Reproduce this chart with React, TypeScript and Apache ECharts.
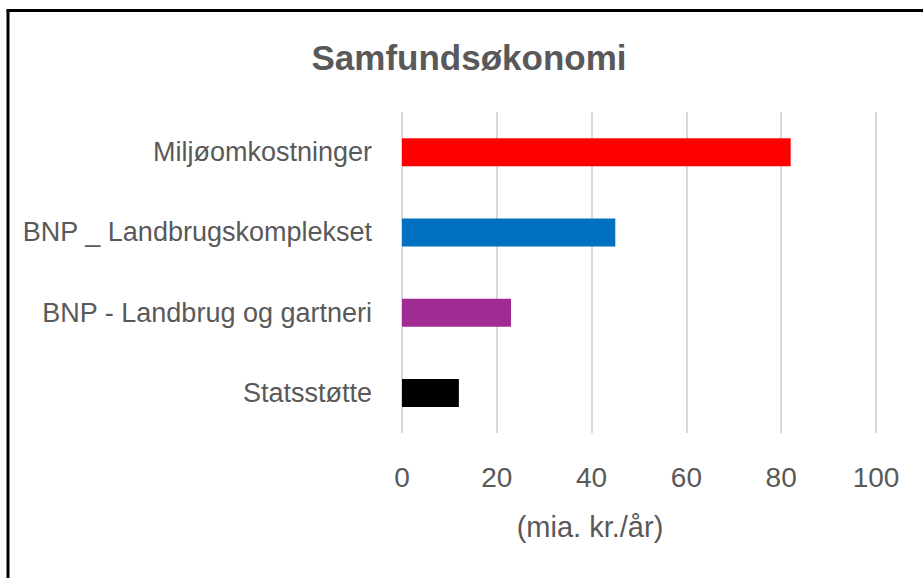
import React, { useEffect, useRef } from "react";
import * as echarts from "echarts";

const categories = [
  "Miljøomkostninger",
  "BNP _ Landbrugskomplekset",
  "BNP - Landbrug og gartneri",
  "Statsstøtte",
];
const values = [82, 45, 23, 12];
const barColors = ["#FF0000", "#0070C0", "#A02B93", "#000000"];
const xTicks = { min: 0, max: 100, interval: 20 };
const titleText = "Samfundsøkonomi";
const axisTitle = "(mia. kr./år)";

export default function App() {
  const ref = useRef<HTMLDivElement>(null);
  useEffect(() => {
    if (!ref.current) return;
    const chart = echarts.init(ref.current, null, { renderer: "svg" });
    const font = "'Liberation Sans', Arial, sans-serif";
    chart.setOption({
      animation: false,
      backgroundColor: "#ffffff",
      title: {
        text: titleText,
        left: 464,
        top: 35,
        textAlign: "center",
        textStyle: {
          fontFamily: font,
          fontSize: 35,
          fontWeight: "bold",
          color: "#595959",
        },
      },
      grid: { left: 402, right: 47, top: 112, bottom: 145 },
      xAxis: {
        type: "value",
        min: xTicks.min,
        max: xTicks.max,
        interval: xTicks.interval,
        axisLine: { show: false },
        axisTick: { show: false },
        splitLine: { show: true, lineStyle: { color: "#D9D9D9", width: 2 } },
        axisLabel: {
          margin: 30,
          fontFamily: font,
          fontSize: 28,
          color: "#595959",
        },
        name: axisTitle,
        nameLocation: "middle",
        nameGap: 79,
        nameTextStyle: {
          fontFamily: font,
          fontSize: 29,
          color: "#595959",
          padding: [0, 98, 0, 0],
        },
      },
      yAxis: {
        type: "category",
        data: categories,
        inverse: true,
        axisLine: { show: false },
        axisTick: { show: false },
        splitLine: { show: false },
        axisLabel: {
          margin: 30,
          fontFamily: font,
          fontSize: 27,
          color: "#595959",
        },
      },
      series: [
        {
          type: "bar",
          barWidth: 28,
          data: values.map((v, i) => ({
            value: v,
            itemStyle: { color: barColors[i] },
          })),
        },
      ],
      graphic: [
        {
          type: "line",
          shape: { x1: 8, y1: 10, x2: 8, y2: 578 },
          style: { stroke: "#000000", lineWidth: 3 },
        },
        {
          type: "line",
          shape: { x1: 6.5, y1: 10.5, x2: 923, y2: 10.5 },
          style: { stroke: "#000000", lineWidth: 3 },
        },
      ],
    });
    return () => chart.dispose();
  }, []);
  return (
    <div
      ref={ref}
      style={{ position: "fixed", left: 0, top: 0, width: 923, height: 578 }}
    />
  );
}
